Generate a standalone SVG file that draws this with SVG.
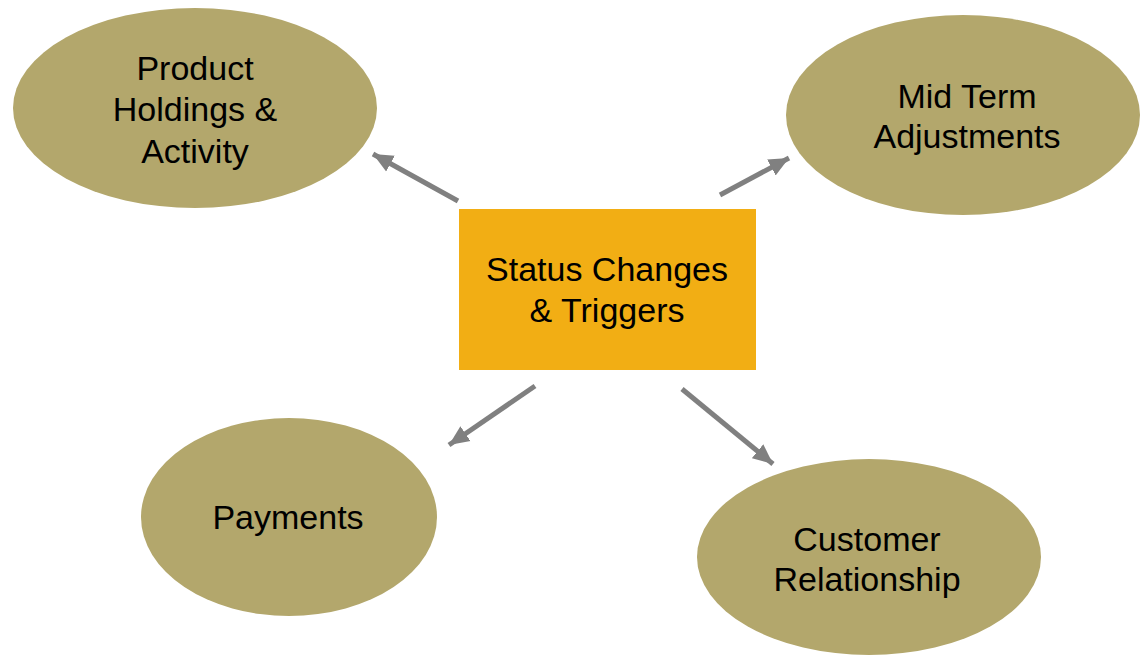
<svg xmlns="http://www.w3.org/2000/svg" width="1140" height="655" viewBox="0 0 1140 655">
<style>
.oval{fill:#B3A76C}
.box{fill:#F2AE14}
.t{font-family:"Liberation Sans",Arial,sans-serif;font-size:34px;fill:#000;text-anchor:middle}
.c{stroke:#808080;stroke-width:5;fill:none;marker-end:url(#ah)}
</style>
<defs>
<marker id="ah" markerUnits="userSpaceOnUse" markerWidth="22" markerHeight="20" refX="20" refY="9" orient="auto" viewBox="0 0 22 18">
<path d="M0,0 L20,9 L0,18 Z" fill="#808080"/>
</marker>
</defs>
<rect width="1140" height="655" fill="#fff"/>
<g id="connectors">
<line class="c" x1="458" y1="201" x2="373" y2="154"/>
<line class="c" x1="720" y1="195" x2="789" y2="158"/>
<line class="c" x1="535" y1="386" x2="449" y2="445"/>
<line class="c" x1="682" y1="389" x2="773" y2="464"/>
</g>
<g id="center">
<rect class="box" x="459" y="209" width="297" height="161"/>
<text class="t" x="607" y="281">Status Changes</text>
<text class="t" x="607" y="322">&amp; Triggers</text>
</g>
<g id="product">
<ellipse class="oval" cx="195" cy="108" rx="182" ry="100"/>
<text class="t" x="195" y="80">Product</text>
<text class="t" x="195" y="121">Holdings &amp;</text>
<text class="t" x="195" y="163">Activity</text>
</g>
<g id="midterm">
<ellipse class="oval" cx="963" cy="115" rx="177" ry="100"/>
<text class="t" x="967" y="108">Mid Term</text>
<text class="t" x="967" y="148">Adjustments</text>
</g>
<g id="payments">
<ellipse class="oval" cx="289" cy="517" rx="148" ry="99"/>
<text class="t" x="288" y="529">Payments</text>
</g>
<g id="customer">
<ellipse class="oval" cx="869" cy="557" rx="172" ry="98"/>
<text class="t" x="867" y="551">Customer</text>
<text class="t" x="867" y="591">Relationship</text>
</g>
</svg>
